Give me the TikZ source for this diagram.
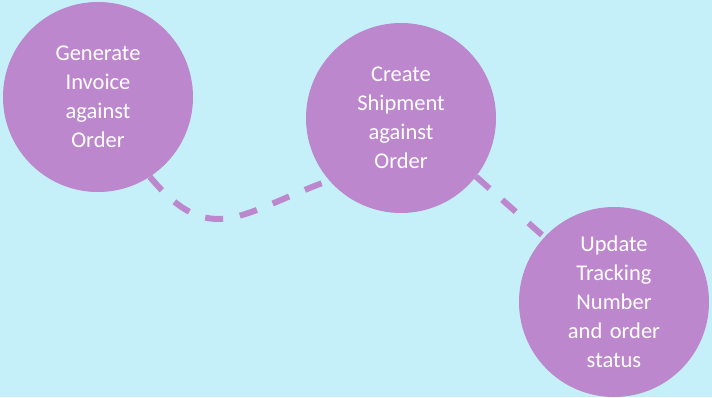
\documentclass[tikz,border=0pt]{standalone}
\usepackage{fontspec}
\setmainfont{Carlito}
\usetikzlibrary{positioning}

\definecolor{bgcyan}{RGB}{198,240,249}
\definecolor{stepviolet}{RGB}{188,135,204}

\tikzset{
  stepcircle/.style={circle, fill=stepviolet, minimum size=190pt, inner sep=0pt,
    text width=130pt, align=center, text=white, font=\fontsize{22.5}{29}\selectfont},
  dashlink/.style={draw=stepviolet, line width=6pt, dash pattern=on 18pt off 17pt}
}

\begin{document}
\begin{tikzpicture}[x=1pt, y=1pt]
      \fill[bgcyan] (0,0) rectangle (712,-397);
      \useasboundingbox (0,0) rectangle (712,-397);

      \node (R0) [stepcircle] at (98,-97) {Generate\\Invoice\\against\\Order};
      \node (R1) [stepcircle] at (401,-118) {Create\\Shipment\\against\\Order};
      \node (R2) [stepcircle] at (614,-302) {Update\\Tracking\\Number\\and order\\status};

      \path[dashlink]
        (R0.-57) edge[out=-50, in=200, looseness=1.35] (R1.221)
        (R1.-38) edge (R2.137);
    \end{tikzpicture}
\end{document}
